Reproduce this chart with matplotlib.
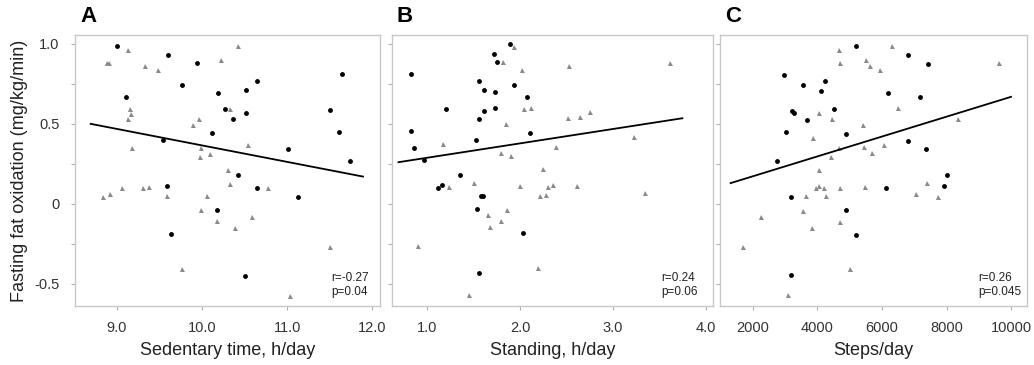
import matplotlib
matplotlib.use("Agg")
import matplotlib.pyplot as plt
import numpy as np

plt.rcParams['font.family'] = ['Liberation Sans', 'DejaVu Sans']

# Panel A: sedentary time (h/day)
sed_circ_x = [9.00, 9.60, 9.94, 9.11, 9.76, 10.19, 10.52, 10.65, 10.27, 10.36, 10.51, 10.11, 9.54,
              10.42, 9.59, 10.64, 10.18, 9.63, 10.50, 11.01, 11.13, 11.50, 11.61, 11.64, 11.74]
sed_circ_y = [0.99, 0.93, 0.88, 0.67, 0.74, 0.69, 0.71, 0.77, 0.59, 0.53, 0.57, 0.44, 0.40,
              0.18, 0.11, 0.10, -0.04, -0.19, -0.45, 0.34, 0.04, 0.585, 0.45, 0.81, 0.27]
sed_tri_x = [9.13, 8.88, 8.90, 9.33, 9.48, 10.22, 10.42, 9.15, 9.16, 9.13, 9.96, 9.89, 10.33,
             9.17, 9.99, 9.97, 10.09, 10.54, 10.30, 10.33, 10.77, 8.83, 8.92, 9.06, 9.30, 9.38,
             9.59, 10.06, 9.99, 10.18, 10.59, 10.39, 9.76, 11.50, 11.03]
sed_tri_y = [0.96, 0.88, 0.88, 0.86, 0.84, 0.90, 0.99, 0.59, 0.56, 0.53, 0.53, 0.49, 0.59,
             0.35, 0.35, 0.29, 0.31, 0.37, 0.21, 0.125, 0.10, 0.045, 0.06, 0.10, 0.10, 0.105,
             0.05, 0.05, -0.04, -0.11, -0.08, -0.15, -0.41, -0.27, -0.58]
sed_fit_x = [8.69, 11.89]
sed_fit_y = [0.50, 0.17]

# Panel B: standing (h/day)
std_circ_x = [1.89, 1.72, 1.75, 0.83, 1.555, 1.94, 1.61, 1.73, 2.07, 1.20, 1.61, 1.73, 1.555,
              0.83, 2.11, 1.53, 0.86, 0.97, 1.35, 1.12, 1.16, 1.58, 1.60, 1.54, 2.03, 1.56]
std_circ_y = [1.0, 0.94, 0.885, 0.81, 0.77, 0.745, 0.71, 0.70, 0.67, 0.59, 0.58, 0.60, 0.53,
              0.456, 0.44, 0.40, 0.35, 0.275, 0.18, 0.10, 0.115, 0.05, 0.048, -0.03, -0.185, -0.435]
std_tri_x = [1.93, 1.82, 2.02, 2.53, 3.62, 2.04, 2.12, 2.52, 2.65, 2.75, 1.85, 1.17, 1.79, 1.90,
             2.39, 3.23, 2.25, 1.23, 1.50, 2.00, 2.30, 2.35, 2.61, 2.22, 2.28, 3.35, 1.86, 1.66,
             1.79, 1.68, 0.90, 2.19, 1.45]
std_tri_y = [0.98, 0.885, 0.84, 0.865, 0.88, 0.59, 0.60, 0.535, 0.54, 0.575, 0.50, 0.375, 0.32,
             0.30, 0.355, 0.42, 0.215, 0.105, 0.13, 0.11, 0.105, 0.12, 0.11, 0.05, 0.055, 0.07,
             -0.04, -0.07, -0.11, -0.145, -0.265, -0.40, -0.57]
std_fit_x = [0.69, 3.75]
std_fit_y = [0.26, 0.535]

# Panel C: steps/day
stp_circ_x = [5181, 6798, 7430, 2953, 4238, 3565, 4104, 6197, 7171, 3202, 3264, 4518, 3668,
              3026, 4871, 6819, 7379, 2746, 8021, 7917, 6114, 3181, 4881, 5181, 3171]
stp_circ_y = [0.99, 0.93, 0.877, 0.806, 0.767, 0.74, 0.706, 0.69, 0.669, 0.58, 0.57, 0.59, 0.527,
              0.45, 0.435, 0.394, 0.342, 0.267, 0.177, 0.108, 0.096, 0.042, -0.04, -0.196, -0.444]
stp_tri_x = [4674, 6311, 4694, 5503, 5617, 5948, 9617, 6508, 4041, 4435, 8353, 5399, 3876, 4653,
             5430, 5679, 6052, 4415, 4062, 3959, 4062, 4197, 4684, 5472, 7389, 3637, 4259, 7057,
             7741, 3544, 2238, 4694, 3834, 1679, 5016, 3078]
stp_tri_y = [0.965, 0.99, 0.88, 0.90, 0.86, 0.84, 0.88, 0.60, 0.57, 0.53, 0.53, 0.49, 0.41, 0.35,
             0.356, 0.315, 0.37, 0.29, 0.21, 0.098, 0.1125, 0.10, 0.098, 0.104, 0.127, 0.05, 0.05,
             0.0625, 0.04, -0.044, -0.08, -0.115, -0.154, -0.27, -0.41, -0.573]
stp_fit_x = [1306, 10000]
stp_fit_y = [0.129, 0.669]

x_labels = ["Sedentary time, h/day", "Standing, h/day", "Steps/day"]
panel_letters = ["A", "B", "C"]
stats = ["r=-0.27\np=0.04", "r=0.24\np=0.06", "r=0.26\np=0.045"]
x_ticks = [[9.0, 10.0, 11.0, 12.0], [1.0, 2.0, 3.0, 4.0], [2000, 4000, 6000, 8000, 10000]]
x_ticklabels = [["9.0", "10.0", "11.0", "12.0"], ["1.0", "2.0", "3.0", "4.0"],
                ["2000", "4000", "6000", "8000", "10000"]]
x_lims = [(8.506, 12.09), (0.62, 4.08), (977, 10496)]
y_ticks = [1.0, 0.75, 0.5, 0.25, 0.0, -0.25, -0.5]
y_ticklabels = ["1.0", "", "0.5", "", "0", "", "-0.5"]

panels = [
    (sed_circ_x, sed_circ_y, sed_tri_x, sed_tri_y, sed_fit_x, sed_fit_y),
    (std_circ_x, std_circ_y, std_tri_x, std_tri_y, std_fit_x, std_fit_y),
    (stp_circ_x, stp_circ_y, stp_tri_x, stp_tri_y, stp_fit_x, stp_fit_y),
]

fig = plt.figure(figsize=(10.34, 3.65), dpi=100)
W, H = 1034.0, 365.0
boxes = [(75, 380), (392, 713), (720, 1027)]
top, bottom = 35, 306

for i, (cx, cy, tx, ty, fx, fy) in enumerate(panels):
    l, r = boxes[i]
    ax = fig.add_axes([l / W, 1 - bottom / H, (r - l) / W, (bottom - top) / H])
    ax.plot(tx, ty, linestyle='none', marker='^', markersize=3.6, color='#8a8a8a',
            markeredgewidth=0)
    ax.plot(cx, cy, linestyle='none', marker='o', markersize=3.5, color='black',
            markeredgewidth=0)
    ax.plot(fx, fy, color='black', linewidth=1.3)
    ax.set_xlim(*x_lims[i])
    ax.set_ylim(-0.64, 1.056)
    ax.set_xticks(x_ticks[i])
    ax.set_xticklabels(x_ticklabels[i])
    ax.set_yticks(y_ticks)
    if i == 0:
        ax.set_yticklabels(y_ticklabels)
        ax.set_ylabel("Fasting fat oxidation (mg/kg/min)", fontsize=13, color='#222222',
                      labelpad=5)
    else:
        ax.set_yticklabels([])
    ax.tick_params(axis='both', length=3, width=0.8, color='#b0b0b0', labelsize=10.5,
                   labelcolor='#333333', pad=8)
    for s in ax.spines.values():
        s.set_color('#c8c8c8')
        s.set_linewidth(1.0)
    ax.set_xlabel(x_labels[i], fontsize=13, color='#222222', labelpad=5)
    ax.text(0.84, 0.03, stats[i], transform=ax.transAxes, fontsize=8.5, color='#222222',
            ha='left', va='bottom', linespacing=1.2)
    fig.text((l + 5) / W, 1 - 17 / H, panel_letters[i], fontsize=16, fontweight='bold',
             ha='left', va='center')

fig.savefig("out.png", dpi=100)
